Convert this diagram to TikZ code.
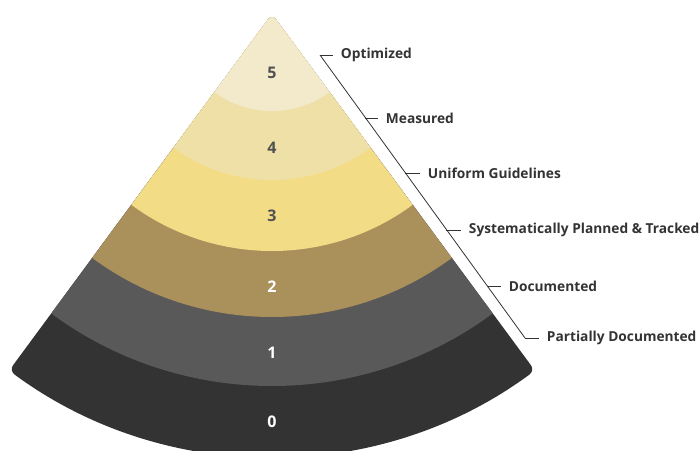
\documentclass[tikz,border=0pt]{standalone}
\usepackage{fontspec}
\setmainfont{Open Sans}
\usepackage{tikz}

\definecolor{band0}{HTML}{333333}
\definecolor{band1}{HTML}{595959}
\definecolor{band2}{HTML}{AA915C}
\definecolor{band3}{HTML}{F3DC86}
\definecolor{band4}{HTML}{EFE0A8}
\definecolor{band5}{HTML}{F3E9CB}
\definecolor{numgray}{HTML}{505050}
\definecolor{lblgray}{HTML}{333333}

\begin{document}
\begin{tikzpicture}[
  x=0.75pt,y=0.75pt,
  num/.style={font=\bfseries\fontsize{12}{14}\selectfont,text=numgray},
  numw/.style={num,text=white},
  lbl/.style={font=\bfseries\fontsize{10.3}{12}\selectfont,text=lblgray,anchor=west,inner sep=2pt},
  leader/.style={draw=lblgray,line width=0.6pt}
]
\useasboundingbox (0,0) rectangle (699,-450);
\coordinate (apex) at (272,-14);

% the fan, cut into rings around the apex
\begin{scope}
  \clip[rounded corners=5pt] (apex) -- ++(233.6:443) arc[start angle=233.6,end angle=306.4,radius=443] -- cycle;
  \foreach \r/\c in {470/band0,372/band1,303/band2,237/band3,166/band4,97/band5}
    \fill[\c] (apex) -- ++(226:\r) arc[start angle=226,end angle=314,radius=\r] -- cycle;
\end{scope}

\node[num]  (n5) at (272,-73)  {5};
\node[num]  (n4) at (272,-148) {4};
\node[num]  (n3) at (272,-216) {3};
\node[numw] (n2) at (272,-287) {2};
\node[numw] (n1) at (272,-353) {1};
\node[numw] (n0) at (272,-422) {0};

% level names
\node[lbl] (l5) at (338,-55)  {Optimized};
\node[lbl] (l4) at (383,-118) {Measured};
\node[lbl] (l3) at (425,-173) {Uniform Guidelines};
\node[lbl] (l2) at (466,-230) {Systematically Planned \& Tracked};
\node[lbl] (l1) at (506,-286) {Documented};
\node[lbl] (l0) at (544,-338) {Partially Documented};

\coordinate (k5) at (320,-55);
\coordinate (k4) at (365,-118);
\coordinate (k3) at (405,-173);
\coordinate (k2) at (446,-230);
\coordinate (k1) at (487,-286);
\coordinate (k0) at (525,-338);
\draw[leader] (k5) -- (k0);
\foreach \i in {0,...,5}
  \draw[leader] (k\i) -- ([xshift=-4pt]l\i.west);
\end{tikzpicture}
\end{document}
